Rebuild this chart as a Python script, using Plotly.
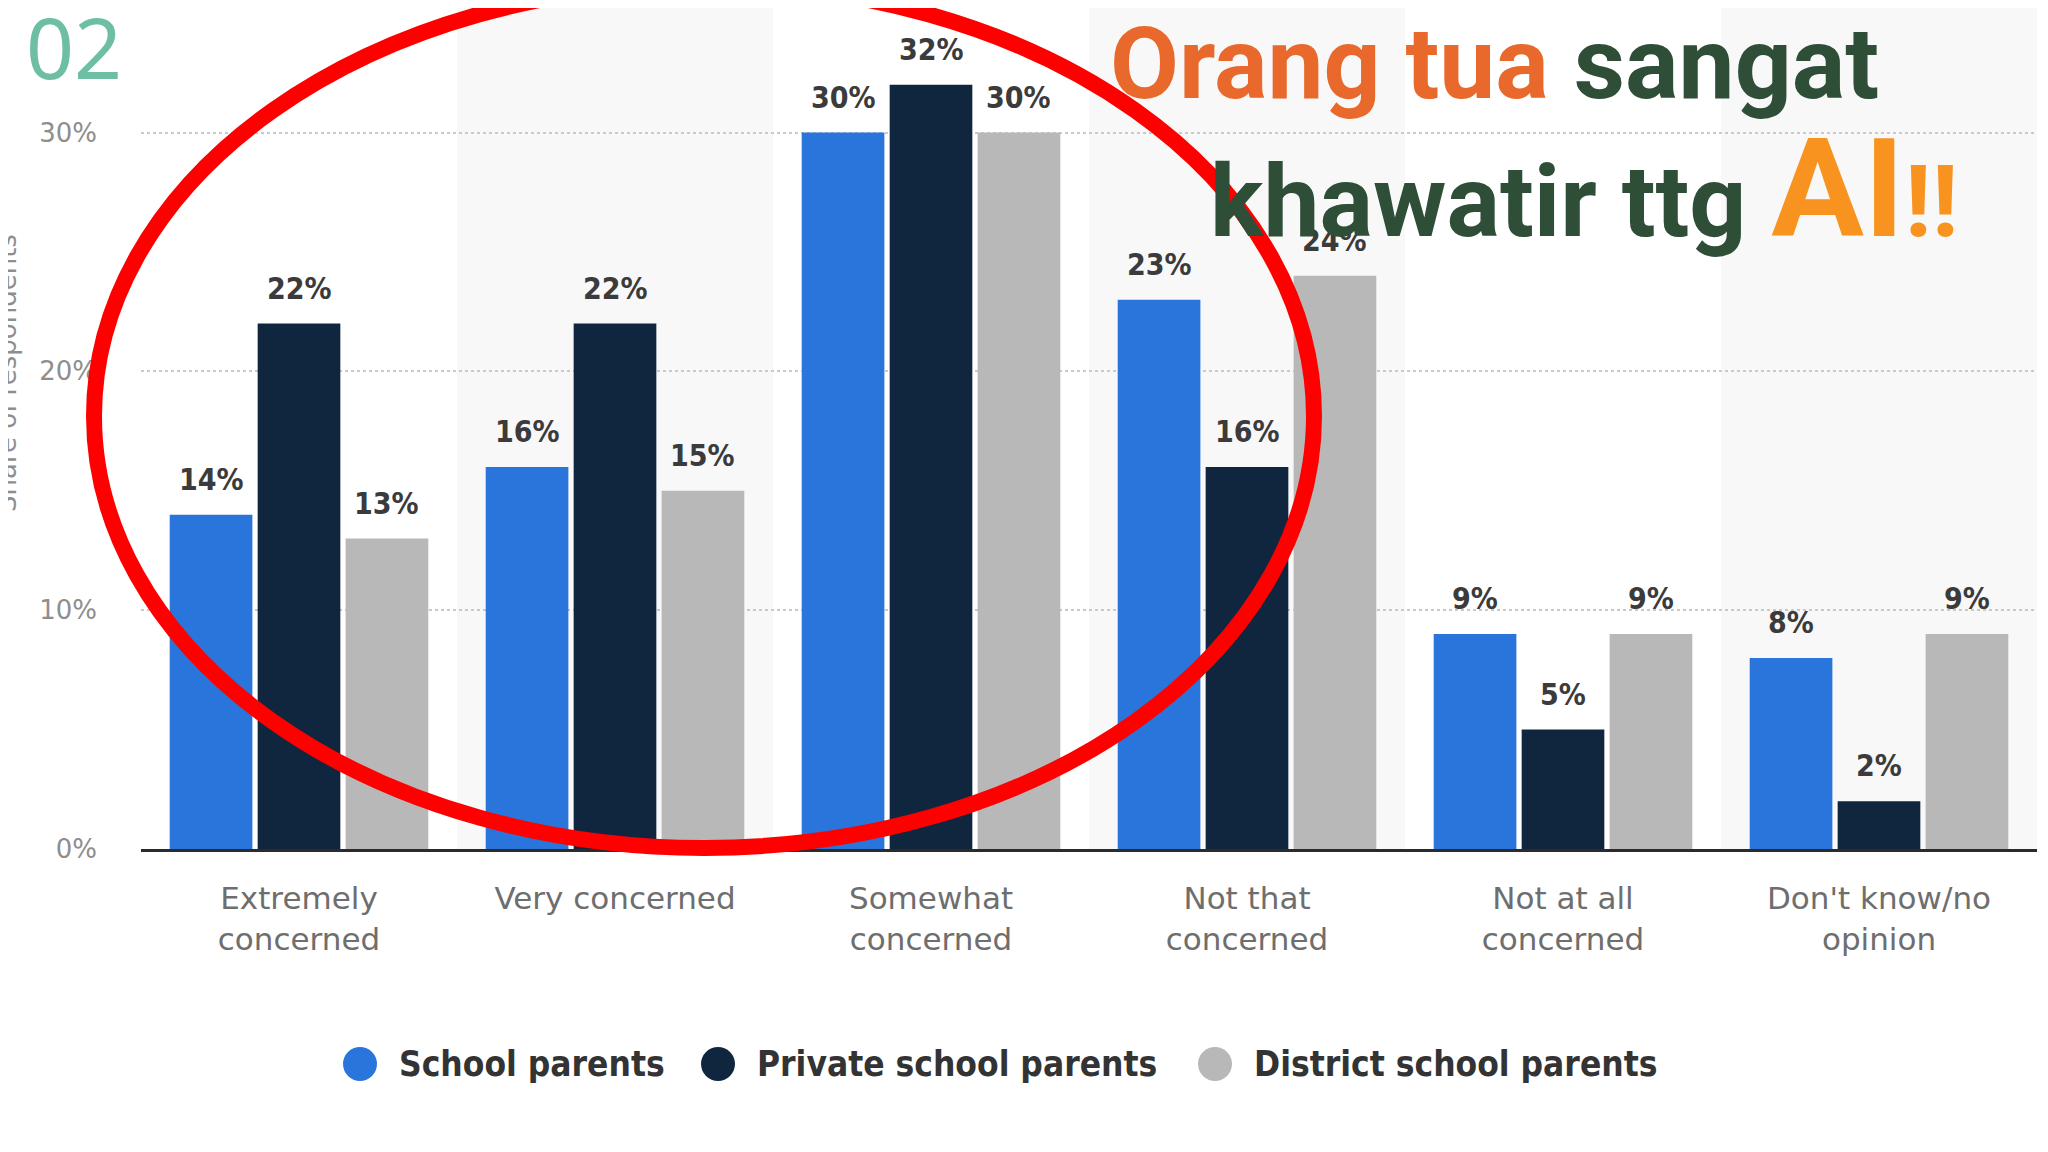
import plotly.graph_objects as go

# ---------------- data ----------------
categories = ["Extremely<br>concerned", "Very concerned", "Somewhat<br>concerned",
              "Not that<br>concerned", "Not at all<br>concerned", "Don't know/no<br>opinion"]
series_names = ["School parents", "Private school parents", "District school parents"]
school_parents = [14, 16, 30, 23, 9, 8]
private_school_parents = [22, 22, 32, 16, 5, 2]
district_school_parents = [13, 15, 30, 24, 9, 9]
y_tick_values = [0, 10, 20, 30]

series_values = [school_parents, private_school_parents, district_school_parents]
colors = ["#2A75DB", "#10263F", "#B8B8B8"]

# ---------------- geometry ----------------
# the page body has an 8px margin, so the figure starts at page (8, 8)
OFF = 8
W, H = 2048 - OFF, 1152 - OFF
L, R, T, B = 133, 11, 29, 303
PW, PH = W - L - R, H - T - B
BARGAP, BARGROUPGAP = 0.165, 0.06


def px_x(page_x):
    return (page_x - OFF - L) / PW


def px_y(page_y):
    return (H - B - (page_y - OFF)) / PH


fig = go.Figure()

for name, vals, col in zip(series_names, series_values, colors):
    fig.add_trace(go.Bar(
        x=categories, y=vals, name=name,
        marker=dict(color=col, line=dict(width=0)),
        showlegend=False,
        hovertemplate="%{y}%<extra>" + name + "</extra>",
    ))

shapes = []
annotations = []

# value labels above each bar (placed through the axes, shifted to their bar slot)
band_px = PW / len(categories)
slot_px = band_px * (1 - BARGAP) / len(series_values)
for si, (vals, name) in enumerate(zip(series_values, series_names)):
    shift = (si - (len(series_values) - 1) / 2) * slot_px
    for cat, v in zip(categories, vals):
        annotations.append(dict(
            x=cat, y=v, xref="x", yref="y", text=f"<b>{v}%</b>",
            xanchor="center", yanchor="bottom", xshift=shift, yshift=16,
            showarrow=False,
            font=dict(family="DejaVu Sans Condensed, DejaVu Sans", size=30, color="#3b3b3b")))

# alternating faint column bands
for i in range(1, len(categories), 2):
    shapes.append(dict(type="rect", xref="x", yref="paper",
                       x0=i - 0.5, x1=i + 0.5, y0=0, y1=px_y(0),
                       fillcolor="#f8f8f8", line=dict(width=0), layer="below"))

# red ellipse
shapes.append(dict(type="circle", xref="paper", yref="paper",
                   x0=px_x(94), x1=px_x(1314), y0=px_y(848), y1=px_y(-16),
                   line=dict(color="#FF0000", width=16), layer="above"))

# custom legend with round symbols
legend_circle_x = [360, 718, 1215]
legend_y = 1064
for name, col, cx in zip(series_names, colors, legend_circle_x):
    r = 17
    shapes.append(dict(type="circle", xref="paper", yref="paper",
                       x0=px_x(cx - r), x1=px_x(cx + r),
                       y0=px_y(legend_y + r), y1=px_y(legend_y - r),
                       fillcolor=col, line=dict(width=0), layer="above"))
    annotations.append(dict(text=f"<b>{name}</b>", xref="paper", yref="paper",
                            x=px_x(cx + 37), y=px_y(legend_y), xanchor="left", yanchor="middle",
                            showarrow=False,
                            font=dict(family="DejaVu Sans Condensed, DejaVu Sans", size=35,
                                      color="#333333")))

# y-axis title (partly cut off at the left edge)
annotations.append(dict(text="Share of respondents", xref="paper", yref="paper",
                        x=px_x(7), y=px_y(373), xanchor="center", yanchor="middle",
                        textangle=-90, showarrow=False,
                        font=dict(family="DejaVu Sans", size=26, color="#8e8e8e")))

# "02" badge
annotations.append(dict(text="02", xref="paper", yref="paper",
                        x=px_x(24), y=px_y(46), xanchor="left", yanchor="middle",
                        showarrow=False,
                        font=dict(family="Noto Sans", size=84, color="#6DBEA2")))

# headline
annotations.append(dict(
    text="<span style='color:#E8692B'>Orang tua</span> <span style='color:#2E4E37'>sangat</span>",
    xref="paper", yref="paper", x=px_x(1108), y=px_y(124),
    xanchor="left", yanchor="bottom", showarrow=False,
    font=dict(family="Roboto", size=100, weight="bold")))
annotations.append(dict(
    text="<span style='color:#2E4E37'>khawatir ttg </span>"
         "<span style='color:#F7931E;font-size:138px'>AI</span>"
         "<span style='color:#F7931E'>!!</span>",
    xref="paper", yref="paper", x=px_x(1208), y=px_y(272),
    xanchor="left", yanchor="bottom", showarrow=False,
    font=dict(family="Roboto", size=100, weight="bold", color="#2E4E37")))

fig.update_layout(
    width=W, height=H,
    margin=dict(l=L, r=R, t=T, b=B),
    paper_bgcolor="white", plot_bgcolor="white",
    barmode="group", bargap=BARGAP, bargroupgap=BARGROUPGAP,
    showlegend=False,
    shapes=shapes, annotations=annotations,
    xaxis=dict(type="category", showgrid=False, showline=True, linecolor="#2b2b2b",
               linewidth=3, ticks="", ticklabelstandoff=20,
               tickfont=dict(family="DejaVu Sans", size=31, color="#6e6e6e")),
    yaxis=dict(range=[0, 34], tickvals=y_tick_values,
               ticktext=[f"{v}%" for v in y_tick_values],
               showgrid=True, gridcolor="#c9c9c9", griddash="dot", gridwidth=2,
               zeroline=False, showline=False, ticks="", ticklabelstandoff=43,
               tickfont=dict(family="DejaVu Sans", size=26, color="#8e8e8e")),
)

fig.write_html("out.html")
